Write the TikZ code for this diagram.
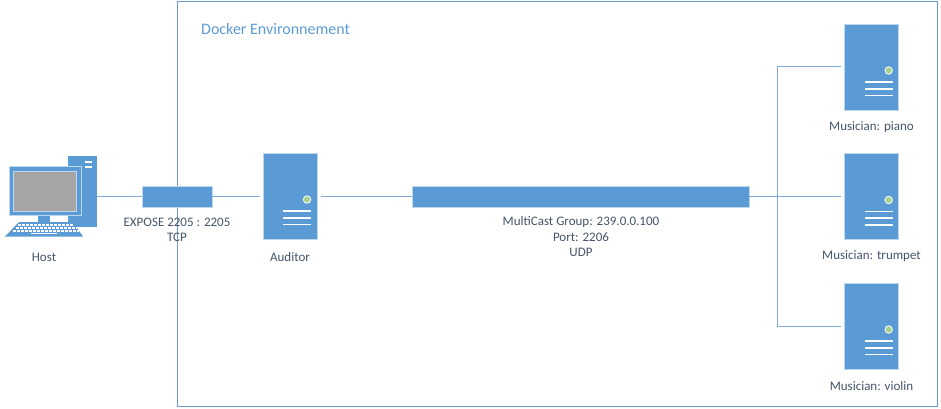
\documentclass[tikz,border=0pt]{standalone}
\usepackage{fontspec}
\setmainfont{Carlito}
\definecolor{blu}{HTML}{5B9BD5}
\definecolor{lineblu}{HTML}{7FA9D6}
\definecolor{frameblu}{HTML}{6A9BCB}
\definecolor{txt}{HTML}{44546A}
\definecolor{led}{HTML}{A9D18E}
\definecolor{scr}{HTML}{A5A5A5}
\definecolor{rim}{HTML}{BDD7EE}
\tikzset{
  x=1pt,y=-1pt,
  lbl/.style={text=txt,font=\fontsize{13}{15.5}\selectfont,inner sep=0pt,align=center},
  srv/.style={fill=blu,draw=rim,line width=.6pt,minimum width=54pt,minimum height=86pt,inner sep=0pt,outer sep=3.5pt},
  bar/.style={fill=blu,draw=rim,line width=.6pt,minimum height=21pt,inner sep=0pt},
  conn/.style={draw=lineblu,line width=1pt},
  ledn/.style={circle,fill=led,draw=white,line width=.8pt,minimum size=7.5pt,inner sep=0pt},
  slit/.style={draw=white,line width=1.7pt}
}
\newcommand{\serverunit}[3]{%
  \node[srv] (#1) at (#2,#3) {};
  \node[ledn] (#1led) at (#2+17,#3+3.5) {};
  \draw[slit] (#2-7,#3+15) -- (#2+21,#3+15);
  \draw[slit] (#2-7,#3+21.7) -- (#2+21,#3+21.7);
  \draw[slit] (#2-7,#3+28.4) -- (#2+21,#3+28.4);
}
\begin{document}
\begin{tikzpicture}
\useasboundingbox (0,0) rectangle (941,409);
% environment
\node[draw=frameblu,line width=1pt,minimum width=760pt,minimum height=405.5pt,inner sep=0pt] (env) at (557.5,204.2) {};
\node[anchor=west,text=blu,font=\fontsize{16}{19}\selectfont,inner sep=0pt] (envlbl) at (201,29.5) {Docker Environnement};
% host
\node[fill=blu,minimum width=29pt,minimum height=71pt,inner sep=0pt] (tower) at (82.5,191.5) {};
\draw[white,line width=1.6pt] (85,162) -- (92,162) (85,167) -- (92,167);
\fill[blu] (38,214) rectangle (50,223);
\fill[blu] (19,222) -- (73,222) -- (83,236.5) -- (5,236.5) -- cycle;
\foreach \r/\xa/\xb in {225/18/74,228/15.5/76.5,231/13/79}{
  \draw[white,line width=1.5pt,dash pattern=on 3pt off 1pt] (\xa,\r) -- (\xb,\r);
}
\draw[white,line width=1.6pt] (31,233.5) -- (57,233.5);
\node[fill=blu,draw=rim,line width=.8pt,minimum width=72pt,minimum height=49pt,inner sep=0pt] (monitor) at (45,190.5) {};
\node[fill=scr,draw=rim,line width=.8pt,minimum width=63pt,minimum height=40pt,inner sep=0pt] (screen) at (44.5,191) {};
% bars
\node[bar,minimum width=70pt] (expose) at (177,196.5) {};
\node[bar,minimum width=337pt] (mcast) at (580.5,196.5) {};
% servers
\serverunit{auditor}{290}{196}
\serverunit{piano}{871.7}{67}
\serverunit{trumpet}{871.7}{196.5}
\serverunit{violin}{871.7}{326}
% connectors
\draw[conn] (tower.east |- expose) -- (expose);
\draw[conn] (expose) -- (auditor.west |- expose);
\draw[conn] (auditor.east |- mcast) -- (mcast);
\draw[conn] (mcast) -- (trumpet.west |- mcast);
\coordinate (tee) at (777.5,196.5);
\draw[conn] (piano.west) -| (tee);
\draw[conn] (violin.west) -| (tee);
% labels
\node[lbl] (hostl) at (44,257.5) {Host};
\node[lbl] (exposel) at (177,230) {EXPOSE 2205 : 2205\\TCP};
\node[lbl] (auditorl) at (290,257.5) {Auditor};
\node[lbl] (mcastl) at (581,237) {MultiCast Group: 239.0.0.100\\Port: 2206\\UDP};
\node[lbl] (pianol) at (871.5,127.5) {Musician: piano};
\node[lbl] (trumpetl) at (871.5,256.5) {Musician: trumpet};
\node[lbl] (violinl) at (871.5,386.5) {Musician: violin};
\end{tikzpicture}
\end{document}
